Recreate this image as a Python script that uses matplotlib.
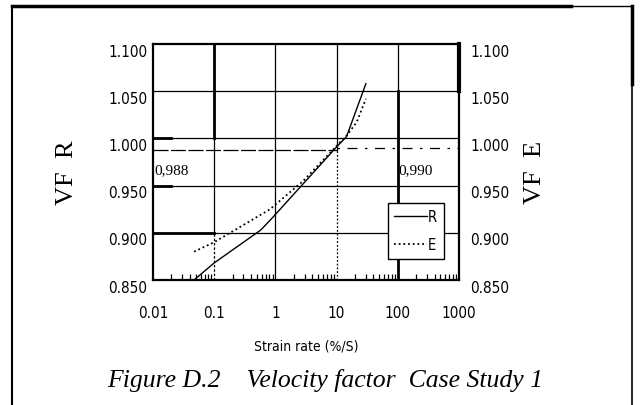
import numpy as np
import matplotlib
matplotlib.use('Agg')
import matplotlib.pyplot as plt
from matplotlib.lines import Line2D
from matplotlib.ticker import FixedLocator, LogLocator, NullFormatter
import matplotlib.transforms as mtransforms

# data
strain_r = [0.047, 0.1, 0.58, 0.87, 2.86, 9.7, 14.6, 30.2]
vf_r = [0.850, 0.868, 0.903, 0.915, 0.952, 0.990, 1.002, 1.058]
strain_e = [0.047, 0.1, 0.233, 0.82, 2.86, 9.7, 14.6, 21.3, 30.2]
vf_e = [0.880, 0.890, 0.904, 0.925, 0.955, 0.991, 1.003, 1.017, 1.042]
ref_r = 0.988
ref_e = 0.990
x_ticks = [0.01, 0.1, 1, 10, 100, 1000]
x_labels = ['0.01', '0.1', '1', '10', '100', '1000']
y_ticks = [0.85, 0.90, 0.95, 1.00, 1.05, 1.10]

sans = {'family': 'DejaVu Sans', 'stretch': 'condensed', 'size': 11}
serif = ['Liberation Serif', 'DejaVu Serif']

fig = plt.figure(figsize=(6.4, 4.06), dpi=100)
ax = fig.add_axes([0.239, 0.308, 0.478, 0.581])
ax.set_xscale('log')
ax.set_xlim(0.01, 1000)
ax.set_ylim(0.85, 1.10)

# grid, drawn piece by piece like the scanned original
def frac(v):
    return (v - 0.85) / 0.25

ax.axvline(0.1, frac(1.0), 1, color='black', lw=2.0)
ax.axvline(0.1, frac(0.9), frac(1.0), color='black', lw=0.9)
ax.axvline(0.1, 0, frac(0.9), color='black', lw=0.9, ls=(0, (2, 1.5)))
ax.axvline(1, 0, 1, color='black', lw=0.9)
ax.axvline(10, frac(ref_r), 1, color='black', lw=0.9)
ax.axvline(10, 0, frac(ref_r), color='black', lw=0.9, ls=(0, (1.5, 1.5)))
ax.axvline(100, frac(1.05), 1, color='black', lw=0.9)
ax.axvline(100, 0, frac(1.05), color='black', lw=2.0)
for yv in [0.90, 0.95, 1.00, 1.05]:
    ax.axhline(yv, color='black', lw=0.9)
ax.axhline(0.90, 0, 0.2, color='black', lw=2.0)
ax.axhline(1.00, 0, 0.06, color='black', lw=2.0)
ax.axhline(0.95, 0, 0.06, color='black', lw=2.0)

# reference levels
ax.plot([0.01, 10], [ref_r, ref_r], color='black', lw=0.9, ls=(0, (12, 2)))
ax.plot([10, 1000], [ref_e, ref_e], color='black', lw=0.9, ls=(0, (2, 6, 8, 6)))
ax.text(0.0105, 0.967, '0,988', fontsize=11, family=serif, va='center', ha='left')
ax.text(104, 0.967, '0,990', fontsize=11, family=serif, va='center', ha='left')

# curves
ax.plot(strain_r, vf_r, color='black', lw=1.0, label='R')
ax.plot(strain_e, vf_e, color='black', lw=1.3, ls=(0, (1, 1.6)), label='E')

leg = ax.legend(loc='lower left', bbox_to_anchor=(0.768, 0.089), fancybox=False,
                edgecolor='black', framealpha=1, handlelength=2.2, handletextpad=0.1,
                borderpad=0.45, labelspacing=0.9, borderaxespad=0,
                prop=dict(sans, size=10.5))
leg.get_frame().set_linewidth(1.0)

for sp in ax.spines.values():
    sp.set_linewidth(1.6)

ax.xaxis.set_major_locator(FixedLocator(x_ticks))
ax.set_xticklabels(x_labels, fontdict=sans)
ax.xaxis.set_minor_locator(LogLocator(base=10, subs=np.arange(2, 10)))
ax.xaxis.set_minor_formatter(NullFormatter())
ax.tick_params(axis='x', which='major', length=0, pad=18)
ax.tick_params(axis='x', which='minor', direction='in', length=4, width=0.9)
ax.set_yticks(y_ticks)
ax.set_yticklabels(['%.3f' % v for v in y_ticks], fontdict=sans)
ax.tick_params(axis='y', length=0, pad=4)

ax2 = ax.twinx()
ax2.set_ylim(0.85, 1.10)
ax2.set_yticks(y_ticks)
ax2.set_yticklabels(['%.3f' % v for v in y_ticks], fontdict=sans)
ax2.tick_params(axis='y', length=0, pad=8)
for sp in ax2.spines.values():
    sp.set_visible(False)
ax.axvline(1000, frac(1.05), 1, color='black', lw=3.0, clip_on=False)

offset = mtransforms.ScaledTranslation(0, -4 / 72, fig.dpi_scale_trans)
for lab in ax.get_yticklabels() + ax2.get_yticklabels():
    lab.set_transform(lab.get_transform() + offset)

ax.set_xlabel('Strain rate (%/S)', fontdict=dict(sans, size=10), labelpad=13)
fig.text(0.105, 0.575, 'VF  R', rotation=90, family=serif, fontsize=19,
         ha='center', va='center')
fig.text(0.836, 0.575, 'VF  E', rotation=90, family=serif, fontsize=19,
         ha='center', va='center')
fig.text(0.167, 0.064, 'Figure D.2    Velocity factor  Case Study 1', family=serif,
         style='italic', fontsize=18.5, ha='left', va='center')

# outer frame of the scanned page
def px(x, y):
    return x / 640, 1 - y / 406

for (x0, y0), (x1, y1), w in [((12, 7), (571, 7), 2.5), ((571, 7), (632, 7), 1.0),
                              ((12, 7), (12, 406), 1.5), ((632, 7), (632, 85), 2.5),
                              ((632, 85), (632, 406), 1.2)]:
    a, b = px(x0, y0)
    c, d = px(x1, y1)
    fig.add_artist(Line2D([a, c], [b, d], color='black', lw=w, transform=fig.transFigure))

fig.savefig('out.png', dpi=100)
